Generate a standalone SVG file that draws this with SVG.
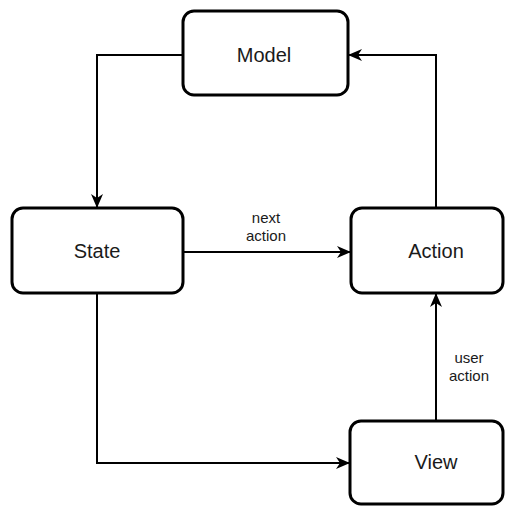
<svg xmlns="http://www.w3.org/2000/svg" width="513" height="506" viewBox="0 0 513 506">
<style>
.node rect{fill:#fff;stroke:#000;stroke-width:3}
.node text{font-family:"Liberation Sans",Arial,sans-serif;font-size:20px;fill:#1a1a1a;text-anchor:middle}
.edge{fill:none;stroke:#000;stroke-width:2}
.lbl{font-family:"Liberation Sans",Arial,sans-serif;font-size:15px;fill:#1a1a1a;text-anchor:middle}
</style>
<defs>
<marker id="arr" viewBox="0 0 14 12" refX="13" refY="6" markerWidth="14" markerHeight="12" markerUnits="userSpaceOnUse" orient="auto">
<path d="M0,0 L14,6 L0,12 L4,6 Z" fill="#000"/>
</marker>
</defs>
<rect width="513" height="506" fill="#fff"/>
<g id="connectors">
<path class="edge" d="M183,55 H97 V207" marker-end="url(#arr)"/>
<path class="edge" d="M183,252 H350" marker-end="url(#arr)"/>
<path class="edge" d="M436,208 V55 H349" marker-end="url(#arr)"/>
<path class="edge" d="M436,421 V294" marker-end="url(#arr)"/>
<path class="edge" d="M97,293 V463 H349" marker-end="url(#arr)"/>
<text class="lbl" x="266" y="223">next</text>
<text class="lbl" x="266" y="241">action</text>
<text class="lbl" x="469" y="363">user</text>
<text class="lbl" x="469" y="381">action</text>
</g>
<g id="model" class="node"><rect x="183" y="11" width="165" height="84" rx="11"/><text x="264" y="62">Model</text></g>
<g id="state" class="node"><rect x="12" y="208" width="171" height="85" rx="11"/><text x="97" y="258">State</text></g>
<g id="action" class="node"><rect x="351" y="208" width="152" height="85" rx="11"/><text x="436" y="258">Action</text></g>
<g id="view" class="node"><rect x="350" y="421" width="153" height="83" rx="11"/><text x="436" y="469">View</text></g>
</svg>
